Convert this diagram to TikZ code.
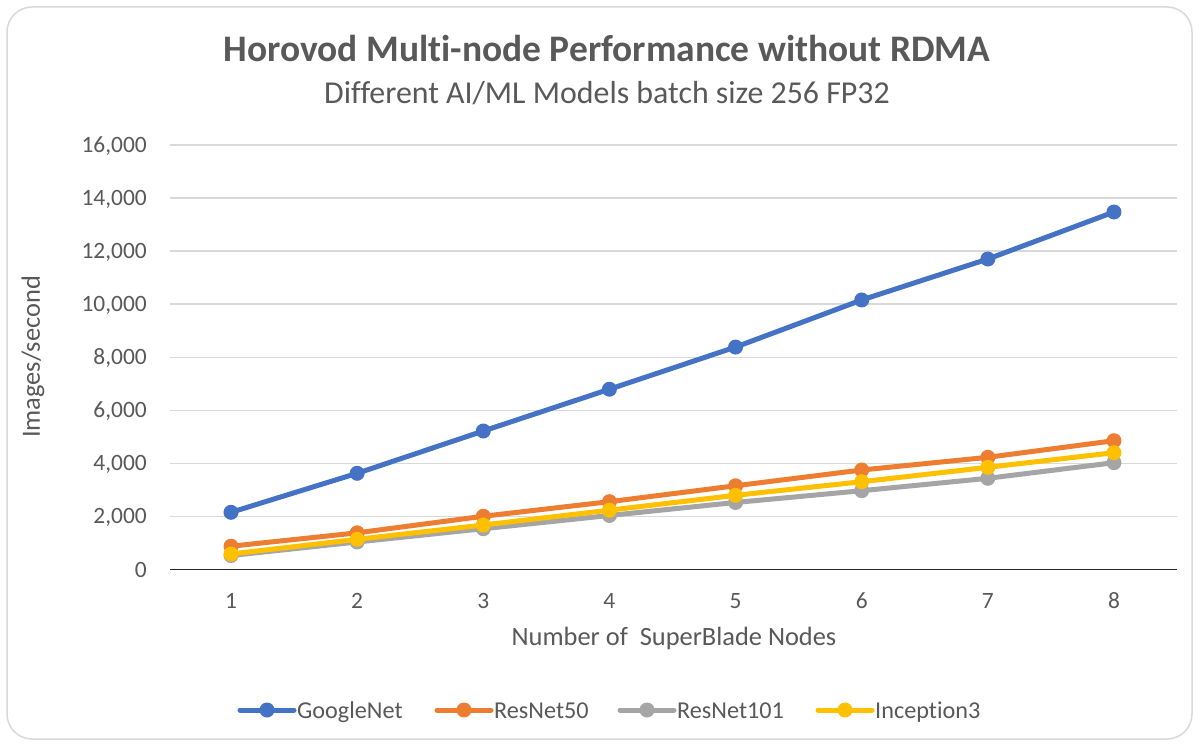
\documentclass[tikz,border=0pt]{standalone}
\usepackage{fontspec}
\setmainfont{Carlito}[Ligatures=NoCommon]
\definecolor{txt}{HTML}{595959}
\definecolor{gridc}{HTML}{D9D9D9}
\definecolor{frm}{HTML}{D9D9D9}
\definecolor{cgoog}{HTML}{4472C4}
\definecolor{cres50}{HTML}{ED7D31}
\definecolor{cres101}{HTML}{A5A5A5}
\definecolor{cincep}{HTML}{FFC000}
\begin{document}
\begin{tikzpicture}[x=1bp,y=-1bp,
  frame/.style={draw=frm,line width=1.5bp,rounded corners=25bp},
  gridline/.style={draw=gridc,line width=1.3bp},
  axisline/.style={draw=black!85,line width=1.5bp},
  seriesline/.style={line width=5bp,line join=round,line cap=round},
  ticklab/.style={text=txt,font=\fontsize{23.5}{28}\selectfont,inner sep=0pt},
  titlelab/.style={text=txt,font=\fontsize{37.6}{44}\selectfont\bfseries,inner sep=0pt},
  sublab/.style={text=txt,font=\fontsize{32}{36}\selectfont,inner sep=0pt},
  axislab/.style={text=txt,font=\fontsize{26.5}{30}\selectfont,inner sep=0pt},
  leglab/.style={text=txt,font=\fontsize{24.3}{28}\selectfont,inner sep=0pt,anchor=base west}]
\useasboundingbox (0,0) rectangle (1199,746);
\fill[white] (0,0) rectangle (1199,746);
\draw[frame] (7,7) rectangle (1192,739);
% titles
\node[titlelab,anchor=base] (title) at (607,62) {Horovod Multi-node Performance without RDMA};
\node[sublab,anchor=base] (subtitle) at (607,104) {Different AI/ML Models batch size 256 FP32};
% grid and y labels
\foreach \k in {1,...,8}{
  \draw[gridline] (170,{569.3-53.038*\k}) -- (1177,{569.3-53.038*\k});
}
\foreach \lab [count=\k from 0] in {0,{2,000},{4,000},{6,000},{8,000},{10,000},{12,000},{14,000},{16,000}}{
  \node[ticklab,anchor=base east] (ylab\k) at (147,{569.3-53.038*\k+7.7}) {\lab};
}
\draw[axisline] (170,569.3) -- (1177,569.3);
% x labels
\foreach \i in {1,...,8}{
  \node[ticklab,anchor=base] (xlab\i) at ({231+126.14*(\i-1)},608) {\i};
}
\node[axislab,anchor=base] (xtitle) at (674,645) {Number of \ SuperBlade Nodes};
\node[axislab,rotate=90] (ytitle) at (33,357) {Images/second};
% series
\foreach \s/\c/\vals in {
  g/cgoog/{2149,3620,5215,6790,8380,10155,11700,13473},
  r/cres50/{870,1375,2000,2550,3150,3744,4223,4849},
  d/cres101/{520,1030,1530,2030,2520,2964,3431,4020},
  n/cincep/{577,1131,1670,2230,2790,3303,3846,4397}}{
  \foreach \v [count=\i] in \vals {
    \coordinate (\s\i) at ({231+126.14*(\i-1)},{569.3-0.026519*\v});
  }
  \draw[seriesline,draw=\c] (\s1) \foreach \i in {2,...,8}{ -- (\s\i)};
  \foreach \i in {1,...,8}{ \fill[\c] (\s\i) circle (7.5); }
}
% legend
\foreach \s/\c/\xa/\lab in {g/cgoog/240/GoogleNet, r/cres50/437/ResNet50, d/cres101/620/ResNet101, n/cincep/818/Inception3}{
  \coordinate (L\s a) at (\xa,710);
  \coordinate (L\s b) at (\xa+54,710);
  \coordinate (L\s m) at (\xa+27,710);
  \draw[seriesline,draw=\c] (L\s a) -- (L\s b);
  \fill[\c] (L\s m) circle (7.5);
  \node[leglab] (L\s t) at (\xa+57,718) {\lab};
}
\end{tikzpicture}
\end{document}
